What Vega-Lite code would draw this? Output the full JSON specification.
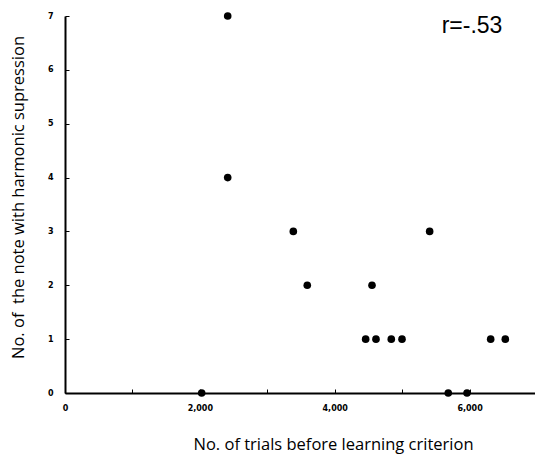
{
  "$schema": "https://vega.github.io/schema/vega-lite/v6.json",
  "width": 472,
  "height": 377,
  "autosize": "none",
  "padding": {"left": 65, "top": 16, "right": 0, "bottom": 61},
  "background": "white",
  "config": {"view": {"stroke": null}},
  "layer": [
    {
      "data": {"values": [
        {"trials": 2027, "notes": 0},
        {"trials": 2413, "notes": 7},
        {"trials": 2413, "notes": 4},
        {"trials": 3386, "notes": 3},
        {"trials": 3593, "notes": 2},
        {"trials": 4459, "notes": 1},
        {"trials": 4553, "notes": 2},
        {"trials": 4612, "notes": 1},
        {"trials": 4839, "notes": 1},
        {"trials": 4998, "notes": 1},
        {"trials": 5408, "notes": 3},
        {"trials": 5684, "notes": 0},
        {"trials": 5962, "notes": 0},
        {"trials": 6313, "notes": 1},
        {"trials": 6530, "notes": 1}
      ]},
      "mark": {"type": "point", "filled": true, "shape": "circle", "size": 58, "color": "black", "opacity": 1, "clip": false},
      "encoding": {
        "x": {
          "field": "trials", "type": "quantitative",
          "scale": {"domain": [0, 7000], "nice": false, "zero": true},
          "axis": {
            "title": "No. of trials before learning criterion",
            "values": [0, 1000, 2000, 3000, 4000, 5000, 6000, 7000],
            "labelExpr": "datum.value % 2000 == 0 ? format(datum.value, ',') : ''",
            "grid": false,
            "domainColor": "black", "domainWidth": 2,
            "tickColor": "black", "tickSize": -4, "tickWidth": 1,
            "labelFont": "DejaVu Sans", "labelFontWeight": "bold", "labelFontSize": 8, "labelColor": "black",
            "labelPadding": 15, "labelFlush": false, "labelOverlap": false,
            "titleFont": "Open Sans", "titleFontSize": 16.5, "titleFontWeight": "normal", "titleColor": "black",
            "titleX": 268, "titleY": 51, "titleBaseline": "middle"
          }
        },
        "y": {
          "field": "notes", "type": "quantitative",
          "scale": {"domain": [0, 7], "nice": false},
          "axis": {
            "title": "No. of\u00a0 the note with harmonic supression",
            "values": [0, 1, 2, 3, 4, 5, 6, 7],
            "format": "d",
            "grid": false,
            "domainColor": "black", "domainWidth": 2,
            "tickColor": "black", "tickSize": -4, "tickWidth": 1,
            "labelFont": "DejaVu Sans", "labelFontWeight": "bold", "labelFontSize": 8, "labelColor": "black",
            "labelPadding": 16, "labelFlush": false, "labelOverlap": false,
            "titleFont": "Open Sans", "titleFontSize": 16.5, "titleFontWeight": "normal", "titleColor": "black",
            "titleX": -47, "titleY": 181, "titleBaseline": "middle", "titleAngle": -90
          }
        }
      }
    },
    {
      "data": {"values": [{"trials": 6036, "notes": 6.68, "label": "r=-.53"}]},
      "mark": {"type": "text", "font": "Liberation Sans", "fontSize": 23, "align": "center", "baseline": "alphabetic", "color": "black"},
      "encoding": {
        "x": {"field": "trials", "type": "quantitative"},
        "y": {"field": "notes", "type": "quantitative"},
        "text": {"field": "label"}
      }
    }
  ]
}
